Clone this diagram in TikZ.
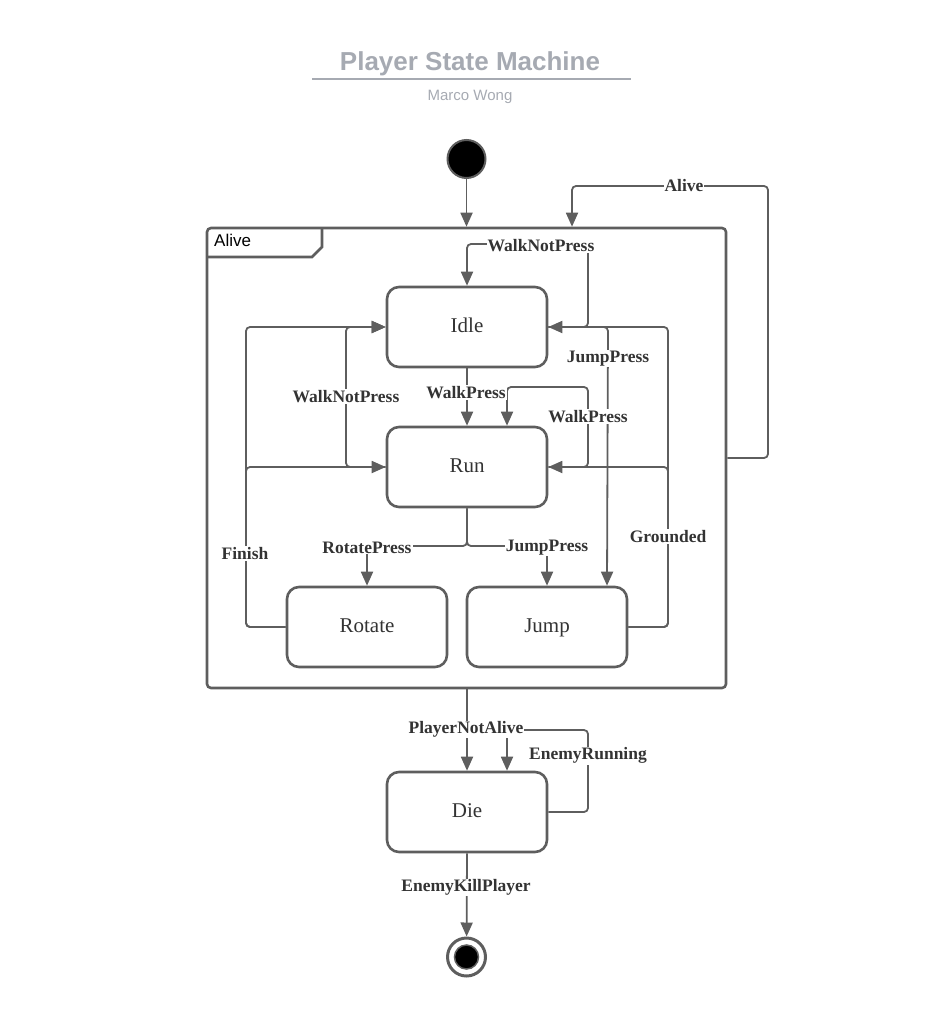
\documentclass[tikz,border=0pt]{standalone}
\usepackage{fontspec}
\setmainfont{Liberation Serif}
\setsansfont{Liberation Sans}
\usetikzlibrary{arrows.meta}
\definecolor{lc}{RGB}{94,94,94}
\definecolor{tc}{RGB}{51,51,51}
\definecolor{titlec}{RGB}{166,170,178}
\begin{document}
\begin{tikzpicture}[x=1pt,y=-1pt,
  state/.style={draw=lc, line width=2.6pt, rounded corners=12pt, minimum width=160pt, minimum height=80pt, fill=white, inner sep=0pt, text height=15pt, text depth=5pt, font=\fontsize{21}{24}\selectfont, text=tc},
  conn/.style={draw=lc, line width=1.8pt, rounded corners=4pt},
  arr/.style={conn, -{Triangle[length=14pt,width=12pt]}},
  lbl/.style={fill=white, inner sep=1pt, yshift=-1.5pt, text=tc, font=\fontsize{17.5}{20}\selectfont\bfseries},
]
\useasboundingbox (0,0) rectangle (934,1016);

% title
\node[font=\sffamily\bfseries\fontsize{26}{30}\selectfont, text=titlec] (title) at (470,64) {Player State Machine};
\draw[titlec, line width=1.8pt] (312,79) -- (631,79);
\node[font=\sffamily\fontsize{15}{18}\selectfont, text=titlec] (author) at (470,97) {Marco Wong};

% composite state
\node[draw=lc, line width=2.6pt, rounded corners=4pt, minimum width=519pt, minimum height=460pt, inner sep=0pt] (alive) at (466.5,458) {};
\draw[lc, line width=2.6pt] (207,257) -- (312,257) -- (322,247) -- (322,228);
\node[anchor=west, inner sep=0pt, font=\sffamily\fontsize{17}{20}\selectfont, text=black] (alivetab) at (214,240) {Alive};

% pseudo states
\node[circle, fill=black, draw=lc, line width=2pt, minimum size=38pt, inner sep=0pt] (start) at (466.5,159) {};
\node[circle, fill=white, draw=lc, line width=3pt, minimum size=38pt, inner sep=0pt] (end) at (466.5,957) {};
\node[circle, fill=black, draw=lc, line width=1.5pt, minimum size=24pt, inner sep=0pt] (endin) at (466.5,957) {};

% states
\node[state] (idle) at (467,327) {Idle};
\node[state] (run) at (467,467) {Run};
\node[state] (rotate) at (367,627) {Rotate};
\node[state] (jump) at (547,627) {Jump};
\node[state] (die) at (467,812) {Die};

% connectors
\draw[arr] (start) -- (start |- alive.north);
\coordinate (aliveloopx) at (572,0);
\draw[arr] (alive.east) -- (768,458) -- (768,186) -- (572,186) -- (alive.north -| aliveloopx);

\draw[arr] (idle.east) -- (588,327) -- (588,244) -- (467,244) -- (idle.north);
\draw[arr] (idle.south) -- (run.north);
\draw[arr] (run.west) -- (346,467) -- (346,327) -- (idle.west);
\draw[arr] (run.east) -- (588,467) -- (588,387) -- (507,387) -- ([xshift=40pt]run.north);
\draw[arr] (idle.east) -- (608,327) -- ([xshift=60pt]jump.north);
\draw[arr] (run.south) -- (467,546) -- (367,546) -- (rotate.north);
\draw[arr] (run.south) -- (467,546) -- (547,546) -- (jump.north);
\draw[arr] (rotate.west) -- (246,627) -- (246,327) -- (idle.west);
\draw[arr] (rotate.west) -- (246,627) -- (246,467) -- (run.west);
\draw[arr] (jump.east) -- (668,627) -- (668,327) -- (idle.east);
\draw[arr] (jump.east) -- (668,627) -- (668,467) -- (run.east);

\draw[arr] (alive.south -| die.north) -- (die.north);
\draw[arr] (die.east) -- (588,812) -- (588,730) -- (507,730) -- ([xshift=40pt]die.north);
\draw[arr] (die.south) -- (end);

% labels
\node[lbl] (lAlive) at (684,184) {Alive};
\node[lbl] (lWNPtop) at (541,244) {WalkNotPress};
\node[lbl] (lWPmid) at (466,391) {WalkPress};
\node[lbl] (lWNPleft) at (346,395) {WalkNotPress};
\node[lbl] (lJPright) at (608,357) {JumpPress};
\node[lbl] (lWPright) at (588,415) {WalkPress};
\node[lbl] (lFinish) at (245,552) {Finish};
\node[lbl] (lRotate) at (367,546) {RotatePress};
\node[lbl] (lJPlow) at (547,546) {JumpPress};
\node[lbl] (lGrounded) at (668,535) {Grounded};
\node[lbl] (lPNA) at (466,728) {PlayerNotAlive};
\node[lbl] (lER) at (588,754) {EnemyRunning};
\node[lbl] (lEKP) at (466,886) {EnemyKillPlayer};
\end{tikzpicture}
\end{document}
